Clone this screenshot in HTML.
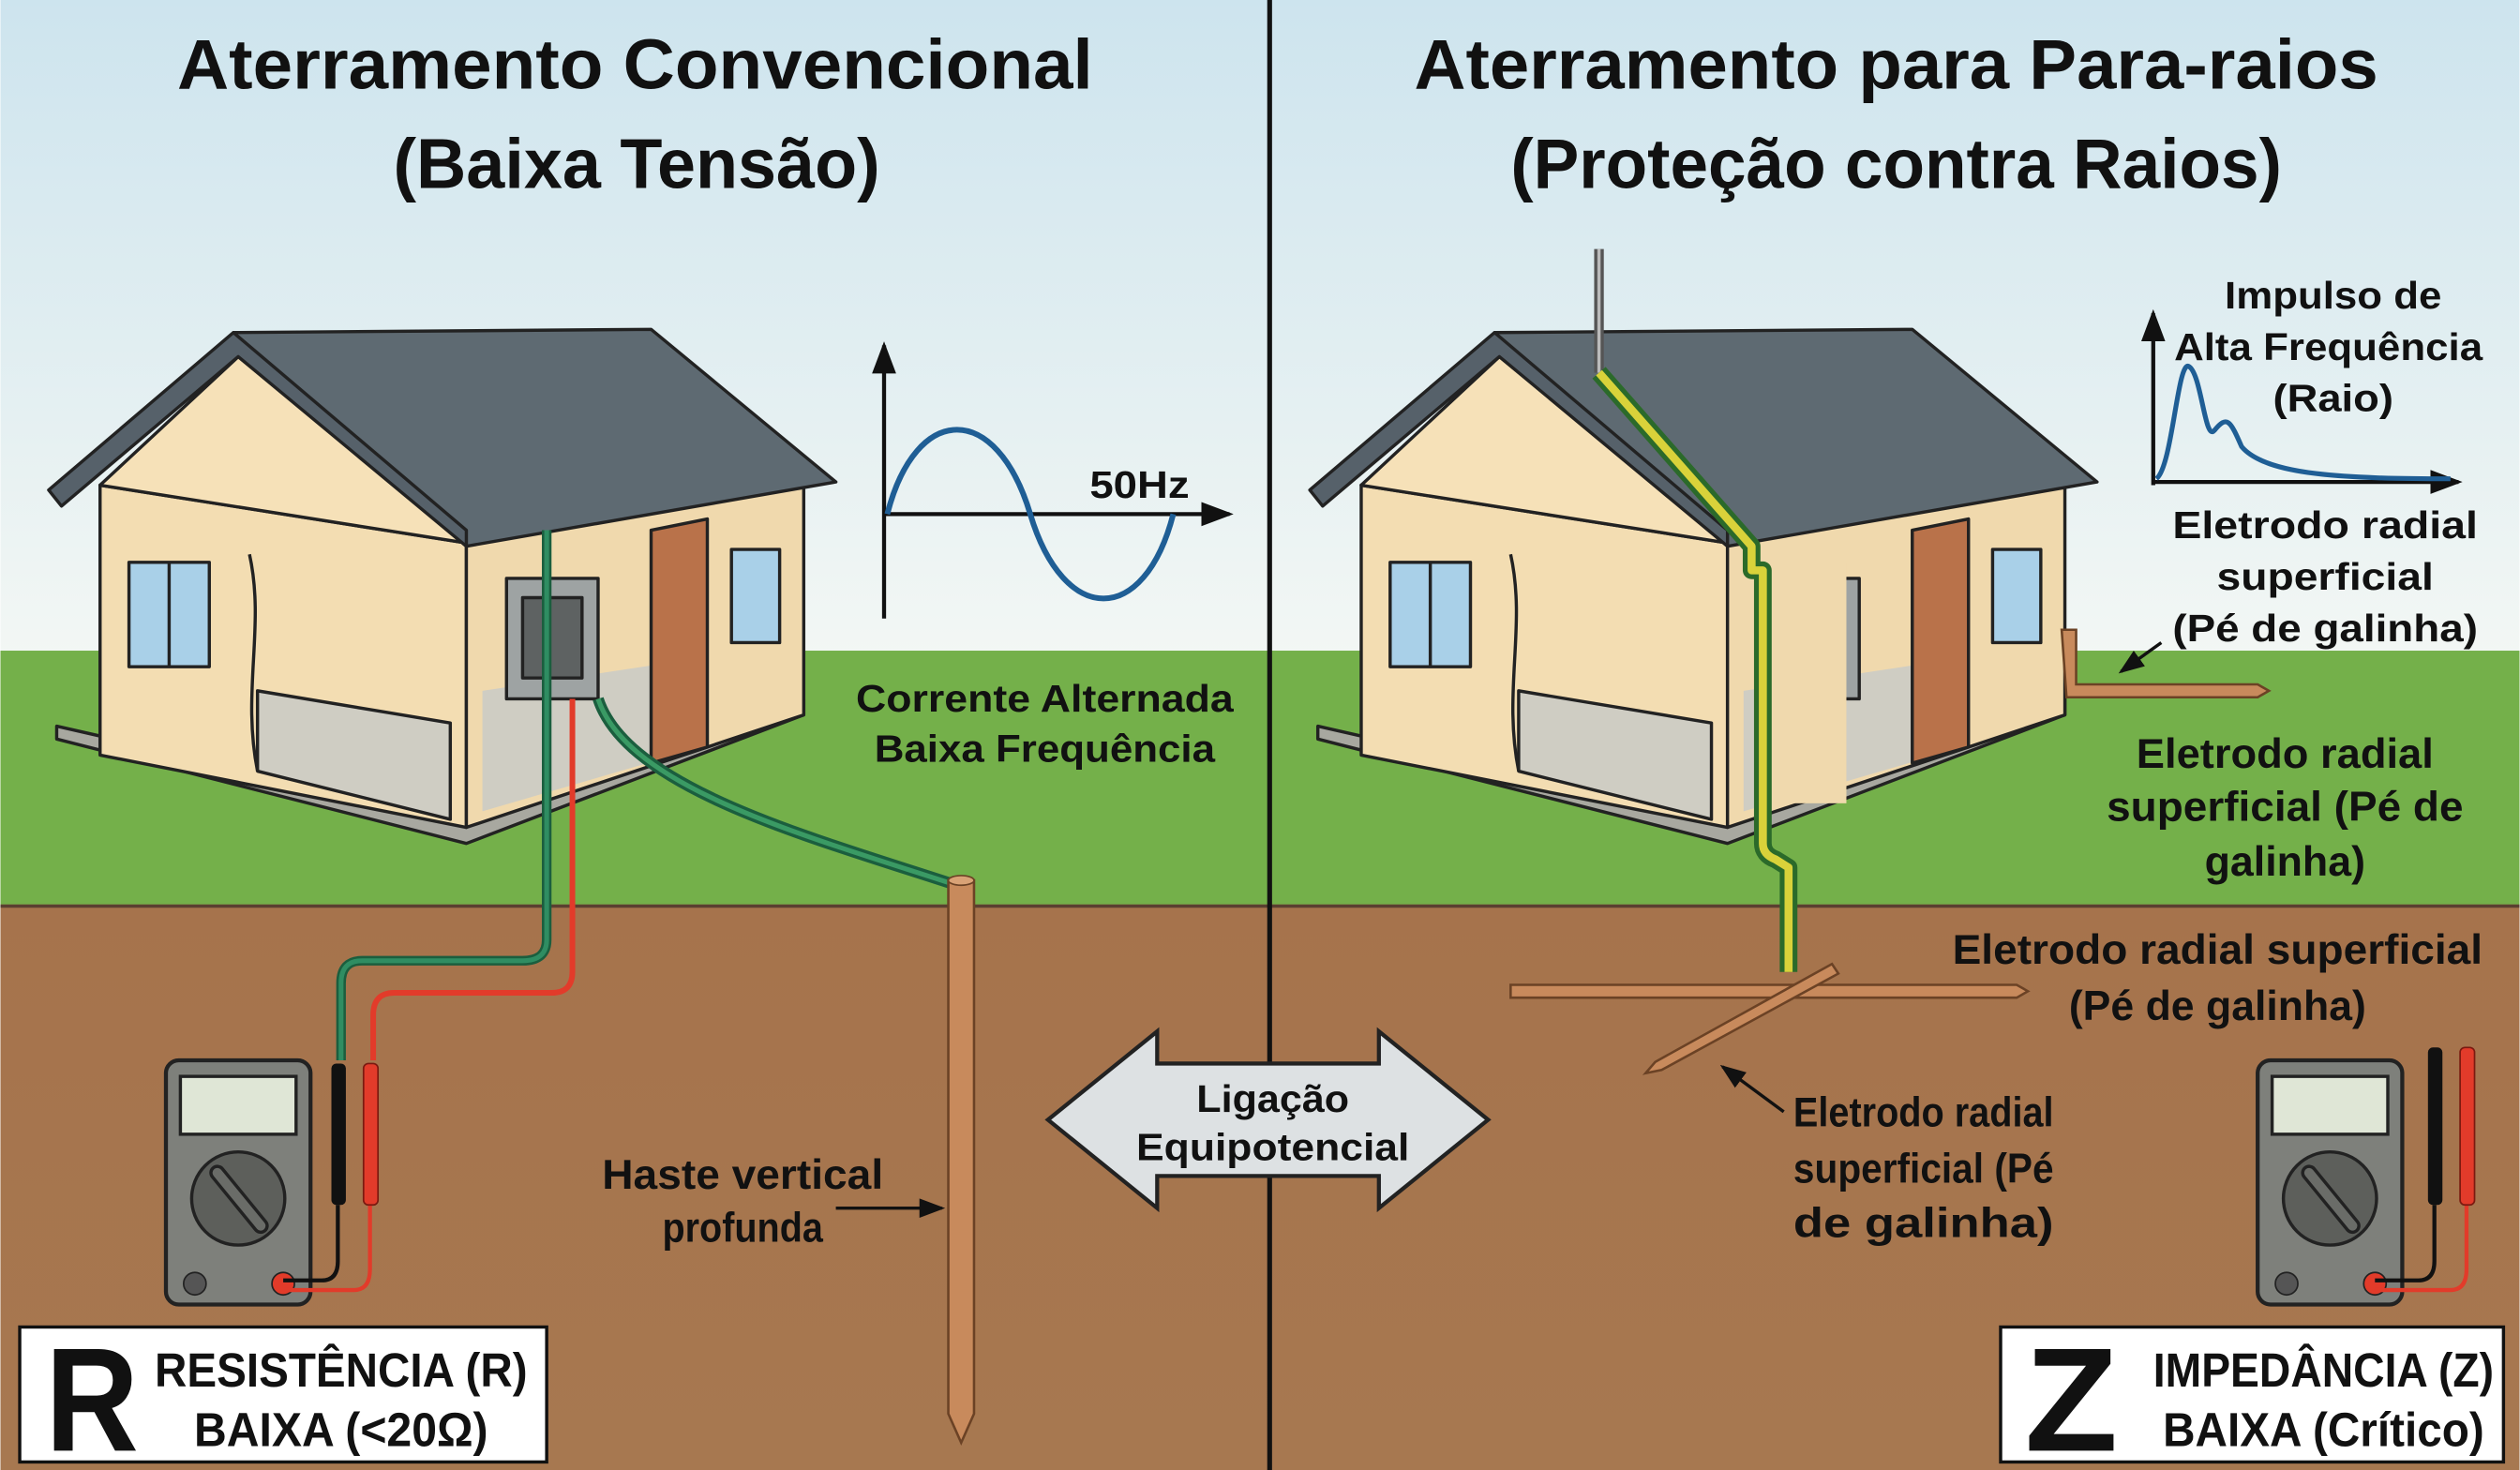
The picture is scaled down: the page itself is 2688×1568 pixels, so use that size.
<!DOCTYPE html>
<html><head><meta charset="utf-8"><style>html,body{margin:0;padding:0;background:#fff}svg{display:block}text{font-family:"Liberation Sans",sans-serif;font-weight:bold;fill:#111}</style></head>
<body>
<svg width="2688" height="1568" viewBox="0 0 1568 915" xmlns="http://www.w3.org/2000/svg">
<defs>
<linearGradient id="sky" x1="0" y1="0" x2="0" y2="1"><stop offset="0" stop-color="#cde4ee"/><stop offset="1" stop-color="#f3f7f4"/></linearGradient>
<linearGradient id="soil" x1="0" y1="0" x2="0" y2="1"><stop offset="0" stop-color="#a6734c"/><stop offset="1" stop-color="#a77850"/></linearGradient>
<marker id="ah" markerWidth="8" markerHeight="8" refX="7" refY="4" orient="auto"><path d="M0,1 L8,4 L0,7 z" fill="#111"/></marker>
</defs>
<rect width="1568" height="410" fill="url(#sky)"/>
<rect y="405" width="1568" height="160" fill="#74b04a"/>
<rect y="563" width="1568" height="352" fill="url(#soil)"/>
<line x1="0" y1="564" x2="1568" y2="564" stroke="#5a4030" stroke-width="2"/>
<line x1="790" y1="0" x2="790" y2="915" stroke="#111" stroke-width="3"/>

<text x="395" y="55" font-size="44" text-anchor="middle" textLength="570" lengthAdjust="spacingAndGlyphs">Aterramento Convencional</text>
<text x="396" y="117" font-size="44" text-anchor="middle" textLength="303" lengthAdjust="spacingAndGlyphs">(Baixa Tensão)</text>
<text x="1180" y="55" font-size="44" text-anchor="middle" textLength="600" lengthAdjust="spacingAndGlyphs">Aterramento para Para-raios</text>
<text x="1180" y="117" font-size="44" text-anchor="middle" textLength="480" lengthAdjust="spacingAndGlyphs">(Proteção contra Raios)</text>

<g id="house" stroke="#222" stroke-width="2" stroke-linejoin="round">
<polygon points="35,460 290,525 500,445 500,435 290,510 35,452" fill="#a8a8a0"/>
<polygon points="62,302 290,338 290,515 62,470" fill="#f3ddb2"/>
<polygon points="290,338 500,300 500,445 290,515" fill="#f0d9ad"/>
<polygon points="160,430 280,450 280,510 160,480" fill="#cfcdc3"/>
<polygon points="300,430 420,412 420,470 300,505" fill="#cfcdc3" stroke="none"/>
<polygon points="148,222 62,302 290,338" fill="#f6e1b8"/>
<polygon points="145,207 405,205 520,300 290,340" fill="#5e6a72"/>
<polygon points="145,207 30,305 38,315 148,222 290,340 290,330" fill="#56616a"/>
<rect x="80" y="350" width="50" height="65" fill="#a9d0e8"/>
<line x1="105" y1="350" x2="105" y2="415"/>
<rect x="455" y="342" width="30" height="58" fill="#a9d0e8"/>
<polygon points="405,330 440,323 440,465 405,475" fill="#b9724a"/>
<path d="M155,345 C165,390 150,430 160,480" fill="none"/>
<rect x="315" y="360" width="57" height="75" fill="#9ea3a3"/>
<rect x="325" y="372" width="37" height="50" fill="#5e6262"/>
</g>
<path d="M340,330 V585 Q340,598 325,598 H225 Q212,598 212,612 V660" fill="none" stroke="#1b5e3e" stroke-width="6"/>
<path d="M340,330 V585 Q340,598 325,598 H225 Q212,598 212,612 V660" fill="none" stroke="#2f8d62" stroke-width="3"/>
<path d="M356,435 V605 Q356,618 343,618 H245 Q232,618 232,632 V660" fill="none" stroke="#e23b2a" stroke-width="3.5"/>
<path d="M372,435 C390,490 500,520 592,550" fill="none" stroke="#1b5e3e" stroke-width="7"/>
<path d="M372,435 C390,490 500,520 592,550" fill="none" stroke="#3a9a64" stroke-width="3"/>
<path d="M590,548 H606 V880 L598,898 L590,880 Z" fill="#c88a5c" stroke="#6b4225" stroke-width="1.5"/>
<ellipse cx="598" cy="548" rx="8" ry="3" fill="#d9a276" stroke="#6b4225"/>
<g stroke="#111" stroke-width="2.5" fill="none">
<line x1="550" y1="385" x2="550" y2="215" marker-end="url(#ah)"/>
<line x1="550" y1="320" x2="765" y2="320" marker-end="url(#ah)"/>
</g>
<path d="M552,320 C570,250 620,250 641,320 C662,390 712,390 730,320" fill="none" stroke="#1f5e95" stroke-width="3.5"/>
<text x="678" y="310" font-size="24" textLength="62" lengthAdjust="spacingAndGlyphs">50Hz</text>
<text x="650" y="443" font-size="24" text-anchor="middle" textLength="235" lengthAdjust="spacingAndGlyphs">Corrente Alternada</text>
<text x="650" y="474" font-size="24" text-anchor="middle" textLength="212" lengthAdjust="spacingAndGlyphs">Baixa Frequência</text>
<text x="462" y="740" font-size="26" text-anchor="middle" textLength="175" lengthAdjust="spacingAndGlyphs">Haste vertical</text>
<text x="462" y="773" font-size="26" text-anchor="middle" textLength="100" lengthAdjust="spacingAndGlyphs">profunda</text>
<line x1="520" y1="752" x2="586" y2="752" stroke="#111" stroke-width="2" marker-end="url(#ah)"/>

<g id="mm">
<rect x="103" y="660" width="90" height="152" rx="8" fill="#7e807b" stroke="#222" stroke-width="2.5"/>
<rect x="112" y="670" width="72" height="36" fill="#dfe6d6" stroke="#222" stroke-width="2"/>
<circle cx="148" cy="746" r="29" fill="#5d5f5b" stroke="#222" stroke-width="2"/>
<line x1="135" y1="730" x2="162" y2="763" stroke="#222" stroke-width="10" stroke-linecap="round"/>
<line x1="135" y1="730" x2="162" y2="763" stroke="#6a6c68" stroke-width="6" stroke-linecap="round"/>
<circle cx="121" cy="799" r="7" fill="#555" stroke="#222"/>
<circle cx="176" cy="799" r="7" fill="#e23b2a" stroke="#222"/>
</g>
<path d="M176,797 H200 Q210,797 210,785 V750" fill="none" stroke="#111" stroke-width="2.5"/>
<path d="M176,803 H220 Q230,803 230,790 V750" fill="none" stroke="#e23b2a" stroke-width="2.5"/>
<rect x="206" y="662" width="9" height="88" rx="3" fill="#111"/>
<rect x="226" y="662" width="9" height="88" rx="3" fill="#e23b2a" stroke="#7a1a10"/>
<rect x="12" y="826" width="328" height="84" fill="#fff" stroke="#111" stroke-width="2"/>
<text x="28" y="903" font-size="92" textLength="58" lengthAdjust="spacingAndGlyphs">R</text>
<text x="212" y="863" font-size="30" text-anchor="middle" textLength="232" lengthAdjust="spacingAndGlyphs">RESISTÊNCIA (R)</text>
<text x="212" y="900" font-size="30" text-anchor="middle" textLength="183" lengthAdjust="spacingAndGlyphs">BAIXA (&lt;20Ω)</text>

<polygon points="652,697 720,642 720,662 858,662 858,642 926,697 858,752 858,732 720,732 720,752" fill="#dde1e3" stroke="#222" stroke-width="2.5"/>
<text x="792" y="692" font-size="24" text-anchor="middle" textLength="95" lengthAdjust="spacingAndGlyphs">Ligação</text>
<text x="792" y="722" font-size="24" text-anchor="middle" textLength="170" lengthAdjust="spacingAndGlyphs">Equipotencial</text>

<use href="#house" transform="translate(785,0)"/>
<rect x="1099" y="350" width="50" height="150" fill="#f0d9ad"/>
<line x1="995" y1="155" x2="995" y2="232" stroke="#555" stroke-width="6"/>
<line x1="995" y1="155" x2="995" y2="232" stroke="#bbb" stroke-width="2"/>
<path d="M995,232 L1090,340 V355 H1097 V525 Q1097,532 1105,535 L1113,540 V605" fill="none" stroke="#2b6a2a" stroke-width="11" stroke-linejoin="round"/>
<path d="M995,232 L1090,340 V355 H1097 V525 Q1097,532 1105,535 L1113,540 V605" fill="none" stroke="#d9d23a" stroke-width="5" stroke-linejoin="round"/>
<path d="M940,613 H1255 L1262,617 L1255,621 H940 Z" fill="#c88a5c" stroke="#6b4225" stroke-width="1.5"/>
<path d="M1140,600 L1030,661 L1024,668 L1034,666 L1144,606 Z" fill="#c88a5c" stroke="#6b4225" stroke-width="1.5"/>
<path d="M1283,392 H1292 V426 H1405 L1412,430 L1405,434 H1286 Z" fill="#c88a5c" stroke="#6b4225" stroke-width="1.5"/>
<g stroke="#111" stroke-width="2.5" fill="none">
<line x1="1340" y1="302" x2="1340" y2="195" marker-end="url(#ah)"/>
<line x1="1340" y1="300" x2="1530" y2="300" marker-end="url(#ah)"/>
</g>
<path d="M1342,298 C1352,290 1355,225 1362,228 C1370,232 1372,275 1378,268 C1386,258 1388,262 1395,278 C1410,296 1460,298 1525,298" fill="none" stroke="#1f5e95" stroke-width="3"/>
<text x="1452" y="192" font-size="24" text-anchor="middle" textLength="135" lengthAdjust="spacingAndGlyphs">Impulso de</text>
<text x="1449" y="224" font-size="24" text-anchor="middle" textLength="192" lengthAdjust="spacingAndGlyphs">Alta Frequência</text>
<text x="1452" y="256" font-size="24" text-anchor="middle" textLength="75" lengthAdjust="spacingAndGlyphs">(Raio)</text>
<text x="1447" y="335" font-size="24" text-anchor="middle" textLength="190" lengthAdjust="spacingAndGlyphs">Eletrodo radial</text>
<text x="1447" y="367" font-size="24" text-anchor="middle" textLength="135" lengthAdjust="spacingAndGlyphs">superficial</text>
<text x="1447" y="399" font-size="24" text-anchor="middle" textLength="190" lengthAdjust="spacingAndGlyphs">(Pé de galinha)</text>
<line x1="1345" y1="400" x2="1320" y2="418" stroke="#111" stroke-width="2" marker-end="url(#ah)"/>
<text x="1422" y="478" font-size="26" text-anchor="middle" textLength="185" lengthAdjust="spacingAndGlyphs">Eletrodo radial</text>
<text x="1422" y="511" font-size="26" text-anchor="middle" textLength="222" lengthAdjust="spacingAndGlyphs">superficial (Pé de</text>
<text x="1422" y="545" font-size="26" text-anchor="middle" textLength="100" lengthAdjust="spacingAndGlyphs">galinha)</text>
<text x="1380" y="600" font-size="26" text-anchor="middle" textLength="330" lengthAdjust="spacingAndGlyphs">Eletrodo radial superficial</text>
<text x="1380" y="635" font-size="26" text-anchor="middle" textLength="185" lengthAdjust="spacingAndGlyphs">(Pé de galinha)</text>
<text x="1197" y="701" font-size="26" text-anchor="middle" textLength="162" lengthAdjust="spacingAndGlyphs">Eletrodo radial</text>
<text x="1197" y="736" font-size="26" text-anchor="middle" textLength="162" lengthAdjust="spacingAndGlyphs">superficial (Pé</text>
<text x="1197" y="770" font-size="26" text-anchor="middle" textLength="162" lengthAdjust="spacingAndGlyphs">de galinha)</text>
<line x1="1110" y1="692" x2="1072" y2="664" stroke="#111" stroke-width="2" marker-end="url(#ah)"/>

<use href="#mm" transform="translate(1302,0)"/>
<path d="M1478,797 H1505 Q1515,797 1515,785 V750" fill="none" stroke="#111" stroke-width="2.5"/>
<path d="M1478,803 H1525 Q1535,803 1535,790 V750" fill="none" stroke="#e23b2a" stroke-width="2.5"/>
<rect x="1511" y="652" width="9" height="98" rx="3" fill="#111"/>
<rect x="1531" y="652" width="9" height="98" rx="3" fill="#e23b2a" stroke="#7a1a10"/>
<rect x="1245" y="826" width="313" height="84" fill="#fff" stroke="#111" stroke-width="2"/>
<text x="1260" y="903" font-size="92" textLength="58" lengthAdjust="spacingAndGlyphs">Z</text>
<text x="1446" y="863" font-size="30" text-anchor="middle" textLength="212" lengthAdjust="spacingAndGlyphs">IMPEDÂNCIA (Z)</text>
<text x="1446" y="900" font-size="30" text-anchor="middle" textLength="200" lengthAdjust="spacingAndGlyphs">BAIXA (Crítico)</text>
</svg>
</body></html>
